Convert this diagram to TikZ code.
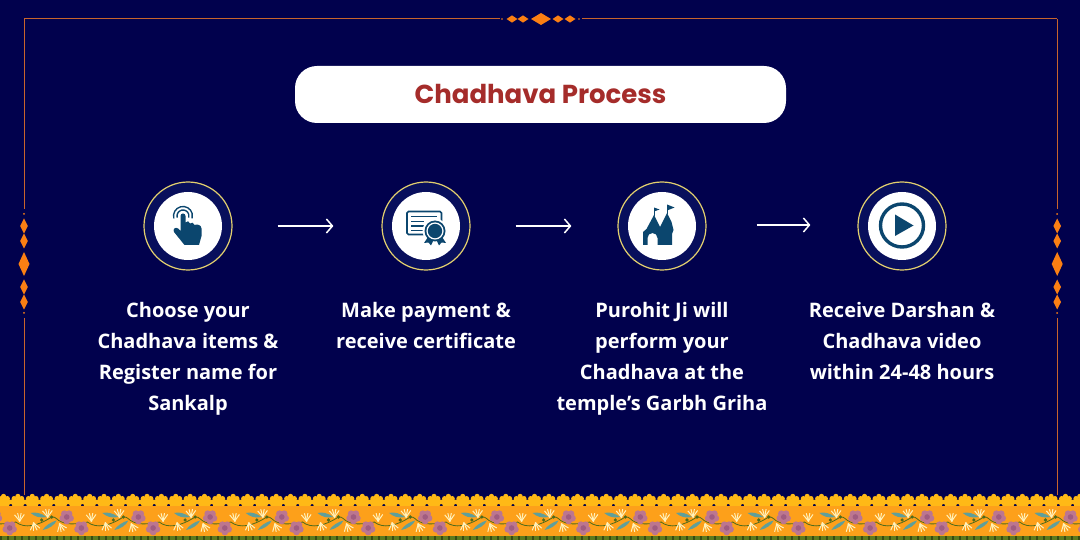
\documentclass[tikz,border=0pt]{standalone}
\usepackage{fontspec}
\usepackage{xcolor}
\usetikzlibrary{arrows.meta}
\usetikzlibrary{shapes.geometric}
\setmainfont{Open Sans}
\newfontfamily\titlefont{Poppins}
\definecolor{navybg}{HTML}{01014D}
\definecolor{ringfill}{HTML}{080F5C}
\definecolor{ringline}{HTML}{E3D06E}
\definecolor{iconblue}{HTML}{0B466E}
\definecolor{borderline}{HTML}{C8642C}
\definecolor{trimorange}{HTML}{FB7F13}
\definecolor{titlered}{HTML}{A52C2A}
\definecolor{bandorange}{HTML}{FDA01A}
\definecolor{bandyellow}{HTML}{FFB916}
\definecolor{bandgreen}{HTML}{5E7A1E}
\definecolor{petalpink}{HTML}{BC7690}
\definecolor{petaldark}{HTML}{A05C80}
\definecolor{vinegreen}{HTML}{4E6B1C}
\definecolor{leafblue}{HTML}{5F9F9A}
\definecolor{sprigcream}{HTML}{FFF2BC}
\tikzset{
    ringnode/.style={circle,draw=ringline,fill=ringfill,line width=1.2pt,minimum size=88pt,inner sep=0pt},
    discnode/.style={circle,fill=white,minimum size=68pt,inner sep=0pt},
    labelnode/.style={align=center,font=\fontsize{20}{31}\selectfont\bfseries,text=white,anchor=north},
    flowarrow/.style={draw=white,line width=1.7pt,-{Straight Barb[length=6pt,width=14pt,line width=1.5pt]}},
    edgeline/.style={draw=borderline,line width=1pt},
    icon/.style={fill=iconblue,draw=none},
    iconline/.style={draw=iconblue,line width=1.5pt}
}
\newcommand{\trimdiamond}[3]{\fill[trimorange] ({#1-#3/2},#2) -- (#1,{#2-3.6}) -- ({#1+#3/2},#2) -- (#1,{#2+3.6}) -- cycle;}
\newcommand{\sidetrim}[1]{
    \draw[edgeline] (#1,19)--(#1,209);
    \draw[edgeline] (#1,318)--(#1,495);
    \fill[trimorange] (#1,214) circle (1pt);
    \fill[trimorange] (#1,313) circle (1pt);
    \foreach \y in {226,241,287,302}{
        \fill[trimorange] ({#1-3.8},\y)--(#1,{\y-7.5})--({#1+3.8},\y)--(#1,{\y+7.5})--cycle;
    }
    \fill[trimorange] ({#1-5.5},264)--(#1,252)--({#1+5.5},264)--(#1,276)--cycle;
}
\newcommand{\bloom}[2]{
    \foreach \a in {18,90,162,234,306}{
        \fill[petalpink] (#1,#2) ++(\a:4) circle (3.4pt);
    }
    \fill[petaldark] (#1,#2) circle (2.8pt);
}
\newcommand{\sprig}[3]{
    \foreach \a in {-40,-15,10,35}{
        \draw[sprigcream,line width=1pt] (#1,#2) -- ++({\a+#3}:8);
    }
    \fill[sprigcream] (#1,#2) circle (1pt);
}
\begin{document}
\begin{tikzpicture}[x=1pt,y=-1pt]
    \useasboundingbox (0,0) rectangle (1080,540);
    \fill[navybg] (0,0) rectangle (1080,540);

    % frame
    \draw[edgeline] (24,19)--(500,19);
    \draw[edgeline] (582,19)--(1057,19);
    \sidetrim{24}
    \sidetrim{1057.2}
    \fill[trimorange] (502,19) circle (0.9pt);
    \fill[trimorange] (579,19) circle (0.9pt);
    \trimdiamond{512}{19}{11}
    \trimdiamond{523}{19}{11}
    \trimdiamond{558}{19}{11}
    \trimdiamond{570}{19}{11}
    \fill[trimorange] (531,19)--(541,13)--(551,19)--(541,25)--cycle;

    % title
    \node[fill=white,rounded corners=22pt,minimum width=491pt,minimum height=57pt,inner sep=0pt,
        text=titlered,font=\fontsize{26}{30}\selectfont\titlefont\bfseries] (title) at (540.5,94.5) {\raisebox{0.5pt}{Chadhava Process}};

    % steps
    \node[ringnode] (ringa) at (188,226) {};
    \node[ringnode] (ringb) at (426,226) {};
    \node[ringnode] (ringc) at (662,226) {};
    \node[ringnode] (ringd) at (902,226) {};
    \node[discnode] (disca) at (ringa) {};
    \node[discnode] (discb) at (ringb) {};
    \node[discnode] (discc) at (ringc) {};
    \node[discnode] (discd) at (ringd) {};

    \draw[flowarrow,shorten <=45pt,shorten >=48pt] (ringa.east) -- (ringb.west);
    \draw[flowarrow,shorten <=45pt,shorten >=46pt] (ringb.east) -- (ringc.west);
    \draw[flowarrow,shorten <=50pt,shorten >=47pt] ([yshift=1pt]ringc.east) -- ([yshift=1pt]ringd.west);

    % hand
    \draw[iconline,line width=1.4pt] (183,216) ++(165:6) arc (165:375:6);
    \draw[iconline,line width=1.4pt] (183,216) ++(165:9.5) arc (165:375:9.5);
    \fill[white] (183,216) circle (3.8pt);
    \fill[icon] (180.5,216) arc (180:360:2.5) -- (185.5,222.5) .. controls (187,220.5) and (189.5,221) .. (190,223.5)
        .. controls (191.5,222) and (194,222.5) .. (194.5,225) .. controls (196.5,224) and (201.5,224.5) .. (201.5,228.5)
        -- (201.5,236) -- (199,245) -- (184.5,245) -- (174,232) .. controls (172.5,229) and (175.5,226.5) .. (178,228.5) -- (180.5,231) -- cycle;

    % certificate
    \draw[iconline,line width=1.6pt,rounded corners=1.5pt] (407,211.5) rectangle (441.5,234.5);
    \draw[iconline,line width=1.5pt] (411,216.5)--(437,216.5);
    \foreach \y in {221.5,226,230.5}{
        \draw[iconline,line width=1.5pt] (411,\y)--(424,\y);
    }
    \fill[white] (435,231) circle (12.5pt);
    \fill[icon] (428,237)--(424,243)--(428.5,242.5)--(431,245.5)--(434,239)--cycle;
    \fill[icon] (442,237)--(446,243)--(441.5,242.5)--(439,245.5)--(436,239)--cycle;
    \fill[icon] (435,231) circle (10.5pt);
    \fill[white] (435,231) circle (8.6pt);
    \fill[icon] (435,231) circle (7.2pt);

    % temple
    \fill[icon] (643,245)--(643,232)--(646.5,229)--(654,215)--(660,227)--(662.5,222)--(667,213)--(671.5,222)--(673.5,230)--(672,234)--(672,245)
        --(657.5,245)--(657.5,238) arc (360:180:5) --(647.5,245)--cycle;
    \draw[iconline,line width=0.9pt] (654,216)--(654,208);
    \draw[iconline,line width=0.9pt] (667,214)--(667,205);
    \fill[icon] (654,207.5)--(659.5,209.5)--(654,211.5)--cycle;
    \fill[icon] (667,204.5)--(674.5,207.5)--(667,210.5)--cycle;

    % play
    \draw[iconline,line width=3.4pt] (902,225.5) circle (21.5pt);
    \fill[icon] (895,214.5)--(913.5,225.5)--(895,236)--cycle;

    % labels
    \node[labelnode] (texta) at (188,299) {Choose your\\Chadhava items \&\\Register name for\\Sankalp};
    \node[labelnode] (textb) at (426,299) {Make payment \&\\receive certificate};
    \node[labelnode] (textc) at (662,299) {Purohit Ji will\\perform your\\Chadhava at the\\temple’s Garbh Griha};
    \node[labelnode] (textd) at (902,299) {Receive Darshan \&\\Chadhava video\\within 24-48 hours};

    % floral band
    \foreach \x in {-10.8,3.55,...,1095}{
        \foreach \a/\r in {200/6,235/6.6,270/7.6,305/6.6,340/6}{
            \fill[bandyellow] (\x,504) ++(\a:\r) circle (2.6pt);
        }
        \fill[bandyellow] (\x,504) circle (6pt);
    }
    \fill[bandorange] (0,506) rectangle (1080,536);
    \foreach \x in {-62,9.7,...,1100}{
        \draw[vinegreen,line width=0.8pt] ({\x+6},522) .. controls ({\x+15},529) and ({\x+28},526) .. ({\x+42},517)
            .. controls ({\x+46},516) and ({\x+48},521) .. ({\x+52},522) .. controls ({\x+58},525) and ({\x+68},524) .. ({\x+78},522);
        \fill[leafblue] ({\x+21},513) .. controls ({\x+26},511.5) and ({\x+32},513.5) .. ({\x+37},517) .. controls ({\x+30},518.5) and ({\x+25},516.5) .. ({\x+21},513) -- cycle;
        \fill[leafblue] ({\x+33},530) .. controls ({\x+35},526) and ({\x+42},521.5) .. ({\x+47},520.5) .. controls ({\x+45},525) and ({\x+39},529) .. ({\x+33},530) -- cycle;
        \fill[vinegreen] ({\x+32},520) circle (1.8pt);
        \fill[vinegreen] ({\x+42},517) circle (1.8pt);
        \sprig{\x+10}{521}{-90}
        \sprig{\x+24}{523}{80}
        \sprig{\x+38}{517}{-90}
        \sprig{\x+50}{524}{70}
        \bloom{\x}{528}
        \bloom{\x+57}{517}
    }
    \fill[bandgreen] (0,535.5) rectangle (1080,540);
    \foreach \x in {0,7,...,1080}{
        \fill[vinegreen!70!black] (\x,535.5) rectangle ({\x+2},540);
    }
\end{tikzpicture}
\end{document}
